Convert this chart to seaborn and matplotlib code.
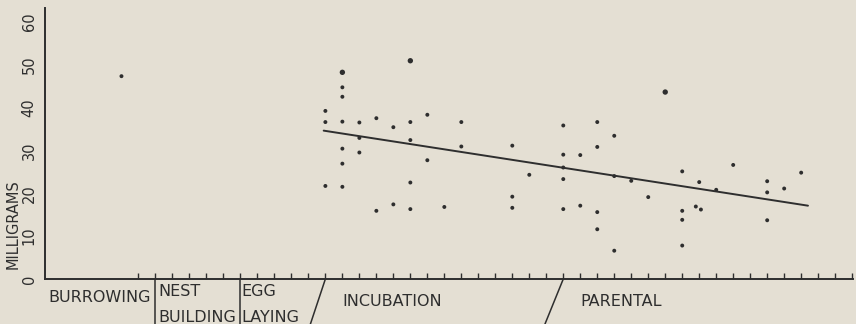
import matplotlib
matplotlib.use("Agg")
import matplotlib.pyplot as plt
import matplotlib.transforms as mtransforms
import pandas as pd
import seaborn as sns

# ---- data ----------------------------------------------------------------
# day index along the breeding season (0 = start of nest building)
day = [-2,
       10, 10, 10,
       11, 11, 11, 11, 11, 11, 11,
       12, 12, 12,
       13, 13,
       14, 14,
       15, 15, 15, 15, 15,
       16, 16,
       17,
       18, 18,
       21, 21, 21,
       22,
       24, 24, 24, 24, 24,
       25, 25,
       26, 26, 26, 26,
       27, 27, 27,
       28, 29, 30,
       31, 31, 31, 31,
       31.8, 32, 32.1,
       33, 34,
       36, 36, 36,
       37, 38]
mg = [47.3,
      39.2, 36.6, 21.7,
      48.2, 44.7, 42.5, 36.7, 30.4, 26.9, 21.5,
      36.5, 32.9, 29.5,
      37.5, 15.9,
      35.4, 17.4,
      50.9, 36.6, 32.4, 22.5, 16.3,
      38.3, 27.7,
      16.8,
      36.6, 30.9,
      31.1, 19.2, 16.6,
      24.3,
      35.8, 29.0, 26.0, 23.3, 16.3,
      28.9, 17.1,
      36.6, 30.8, 15.6, 11.6,
      33.4, 24.0, 6.6,
      22.9, 19.1, 43.6,
      25.1, 15.9, 13.8, 7.8,
      16.9, 22.6, 16.2,
      20.8, 26.6,
      22.8, 20.2, 13.7,
      21.1, 24.8]
# points drawn with a heavier dot (two overlapping observations)
doubled = [(11, 48.2), (15, 50.9), (30, 43.6)]

trend_day = [9.9, 38.4]
trend_mg = [34.6, 17.1]

y_ticks = [0, 10, 20, 30, 40, 50, 60]
y_labels = ["0", "10", "20", "30", "40", "50", "60"]

phase_bounds = [0, 5]           # vertical dividers
phase_slashes = [(10, 9.1), (24, 22.9)]
phases = ["BURROWING", "NEST", "BUILDING", "EGG", "LAYING", "INCUBATION", "PARENTAL"]

# ---- style -----------------------------------------------------------------
bg = "#e4dfd3"
ink = "#2e2e2e"
sns.set_style("ticks")
plt.rcParams["font.family"] = ["DejaVu Sans"]

W, H = 856, 324
fig = plt.figure(figsize=(W / 100, H / 100), dpi=100, facecolor=bg)
ax = fig.add_axes([45 / W, 45 / H, (853 - 45) / W, (279 - 8) / H])
ax.set_facecolor(bg)

df = pd.DataFrame({"day": day, "mg": mg})
df["n"] = [2 if (d, m) in doubled else 1 for d, m in zip(day, mg)]

sns.scatterplot(data=df, x="day", y="mg", size="n", sizes={1: 8, 2: 15},
                color=ink, linewidth=0, legend=False, ax=ax, zorder=3)
sns.lineplot(x=trend_day, y=trend_mg, color=ink, lw=1.4, ax=ax)

ax.set_xlim(-6.5, 41.05)
ax.set_ylim(0, 63.2)
sns.despine(ax=ax)
for s in ["left", "bottom"]:
    ax.spines[s].set_color(ink)
    ax.spines[s].set_linewidth(1.4)

ax.set_xticks(range(-1, 42))
ax.set_xticklabels([])
ax.tick_params(axis="x", direction="in", length=4, width=1, color=ink)
ax.set_yticks(y_ticks)
ax.set_yticklabels(y_labels, rotation=90, va="center", fontsize=10.5, color=ink)
ax.tick_params(axis="y", length=0, pad=6)
ax.set_xlabel("")
ax.set_ylabel("")

fig.text(13 / W, 1 - 224 / H, "MILLIGRAMS", rotation=90, ha="center", va="center",
         fontsize=10.5, color=ink)

# phase dividers below the axis
trans = mtransforms.blended_transform_factory(ax.transData, ax.transAxes)
below = -46 / 271
for b in phase_bounds:
    ax.plot([b, b], [0, below], transform=trans, clip_on=False, color=ink, lw=1.1)
for top, bot in phase_slashes:
    ax.plot([top, bot], [0, below], transform=trans, clip_on=False, color=ink, lw=1.1)

# phase names (pixel positions)
label_pos = [(48, 298), (158, 292), (158, 317), (241, 292), (241, 317), (342, 301), (580, 301)]
for txt, (px, py) in zip(phases, label_pos):
    fig.text(px / W, 1 - py / H, txt, ha="left", va="center", fontsize=11.5, color=ink)

fig.savefig("out.png", dpi=100, facecolor=bg)
